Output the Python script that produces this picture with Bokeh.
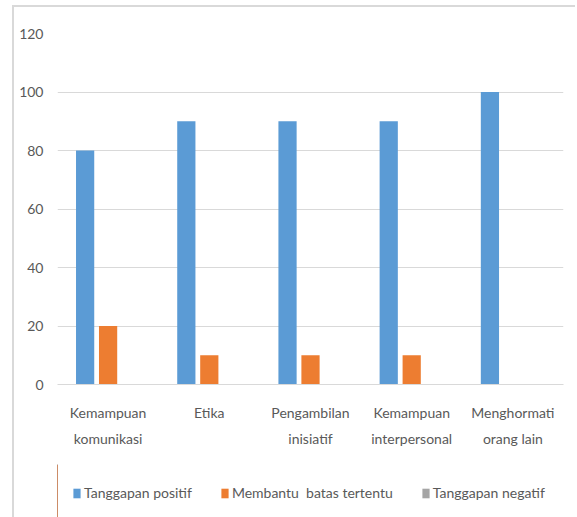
from bokeh.plotting import figure
from bokeh.models import ColumnDataSource, Legend, LegendItem, FixedTicker
from bokeh.layouts import column
from bokeh.transform import dodge
from bokeh.embed import file_html
from bokeh.resources import INLINE

categories = ["Kemampuan\nkomunikasi", "Etika", "Pengambilan\ninisiatif",
              "Kemampuan\ninterpersonal", "Menghormati\norang lain"]
tanggapan_positif = [80, 90, 90, 90, 100]
membantu_batas = [20, 10, 10, 10, 0]
tanggapan_negatif = [0, 0, 0, 0, 0]
series_names = ["Tanggapan positif", "Membantu  batas tertentu", "Tanggapan negatif"]
colors = ["#5b9bd5", "#ed7d31", "#a5a5a5"]
y_ticks = [0, 20, 40, 60, 80, 100, 120]

FONT = "Lato"
FS = "14px"
TXT = "#595959"

xs = list(range(len(categories)))
src = ColumnDataSource(dict(x=xs, a=tanggapan_positif, b=membantu_batas, c=tanggapan_negatif))

p = figure(frame_width=506, frame_height=351, x_range=(-0.5, 4.5), y_range=(0, 120),
           output_backend="svg", toolbar_location=None,
           min_border_left=43, min_border_top=26, min_border_right=12, min_border_bottom=80)
p.outline_line_color = None

w = 0.18
offsets = [-0.227, 0.0, 0.227]
cols = ["a", "b", "c"]
for k in range(3):
    p.vbar(x=dodge("x", offsets[k], range=p.x_range), top=cols[k], width=w, source=src,
           color=colors[k], line_color=None)

p.xaxis.ticker = FixedTicker(ticks=xs)
p.xaxis.major_label_overrides = {i: c for i, c in enumerate(categories)}
p.xaxis.major_tick_out = 0
p.xaxis.major_tick_in = 0
p.xaxis.major_tick_line_color = None
p.xaxis.minor_tick_line_color = None
p.xaxis.axis_line_color = "#d9d9d9"
p.xaxis.major_label_text_font = FONT
p.xaxis.major_label_text_font_size = FS
p.xaxis.major_label_text_color = TXT
p.xaxis.major_label_text_line_height = 1.55
p.xaxis.major_label_standoff = 19
p.xgrid.grid_line_color = None

p.yaxis.ticker = FixedTicker(ticks=y_ticks)
p.yaxis.axis_line_color = None
p.yaxis.major_tick_out = 0
p.yaxis.major_tick_in = 0
p.yaxis.major_tick_line_color = None
p.yaxis.minor_tick_line_color = None
p.yaxis.major_label_text_font = FONT
p.yaxis.major_label_text_font_size = FS
p.yaxis.major_label_text_color = TXT
p.yaxis.major_label_standoff = 14
p.ygrid.grid_line_color = "#d9d9d9"
p.ygrid.ticker = FixedTicker(ticks=y_ticks)

# legend strip (bars placed outside its visible x-range, only swatches show)
p2 = figure(width=561, height=53, x_range=(10, 11), y_range=(0, 1),
            x_axis_type=None, y_axis_type=None,
            output_backend="svg", toolbar_location=None, min_border=0,
            min_border_left=43)
p2.outline_line_color = None
p2.xgrid.grid_line_color = None
p2.ygrid.grid_line_color = None
rs = []
for k in range(3):
    rs.append(p2.vbar(x="x", top=cols[k], width=w, source=src,
                      color=colors[k], line_color=None))

legend = Legend(items=[LegendItem(label=series_names[k], renderers=[rs[k]]) for k in range(3)],
                orientation="horizontal", location=(15, 16),
                label_text_font=FONT, label_text_font_size=FS, label_text_color=TXT,
                glyph_width=9, glyph_height=12, label_standoff=3, spacing=28,
                padding=0, margin=0, border_line_color=None, background_fill_alpha=0)
p2.add_layout(legend, "center")

layout = column(p, p2, spacing=0, margin=(5, 0, 0, 12),
                styles={"border-left": "2px solid #d9d9d9", "border-top": "2px solid #d9d9d9"})

html = file_html(layout, INLINE)
open("out.html", "w").write(html)
